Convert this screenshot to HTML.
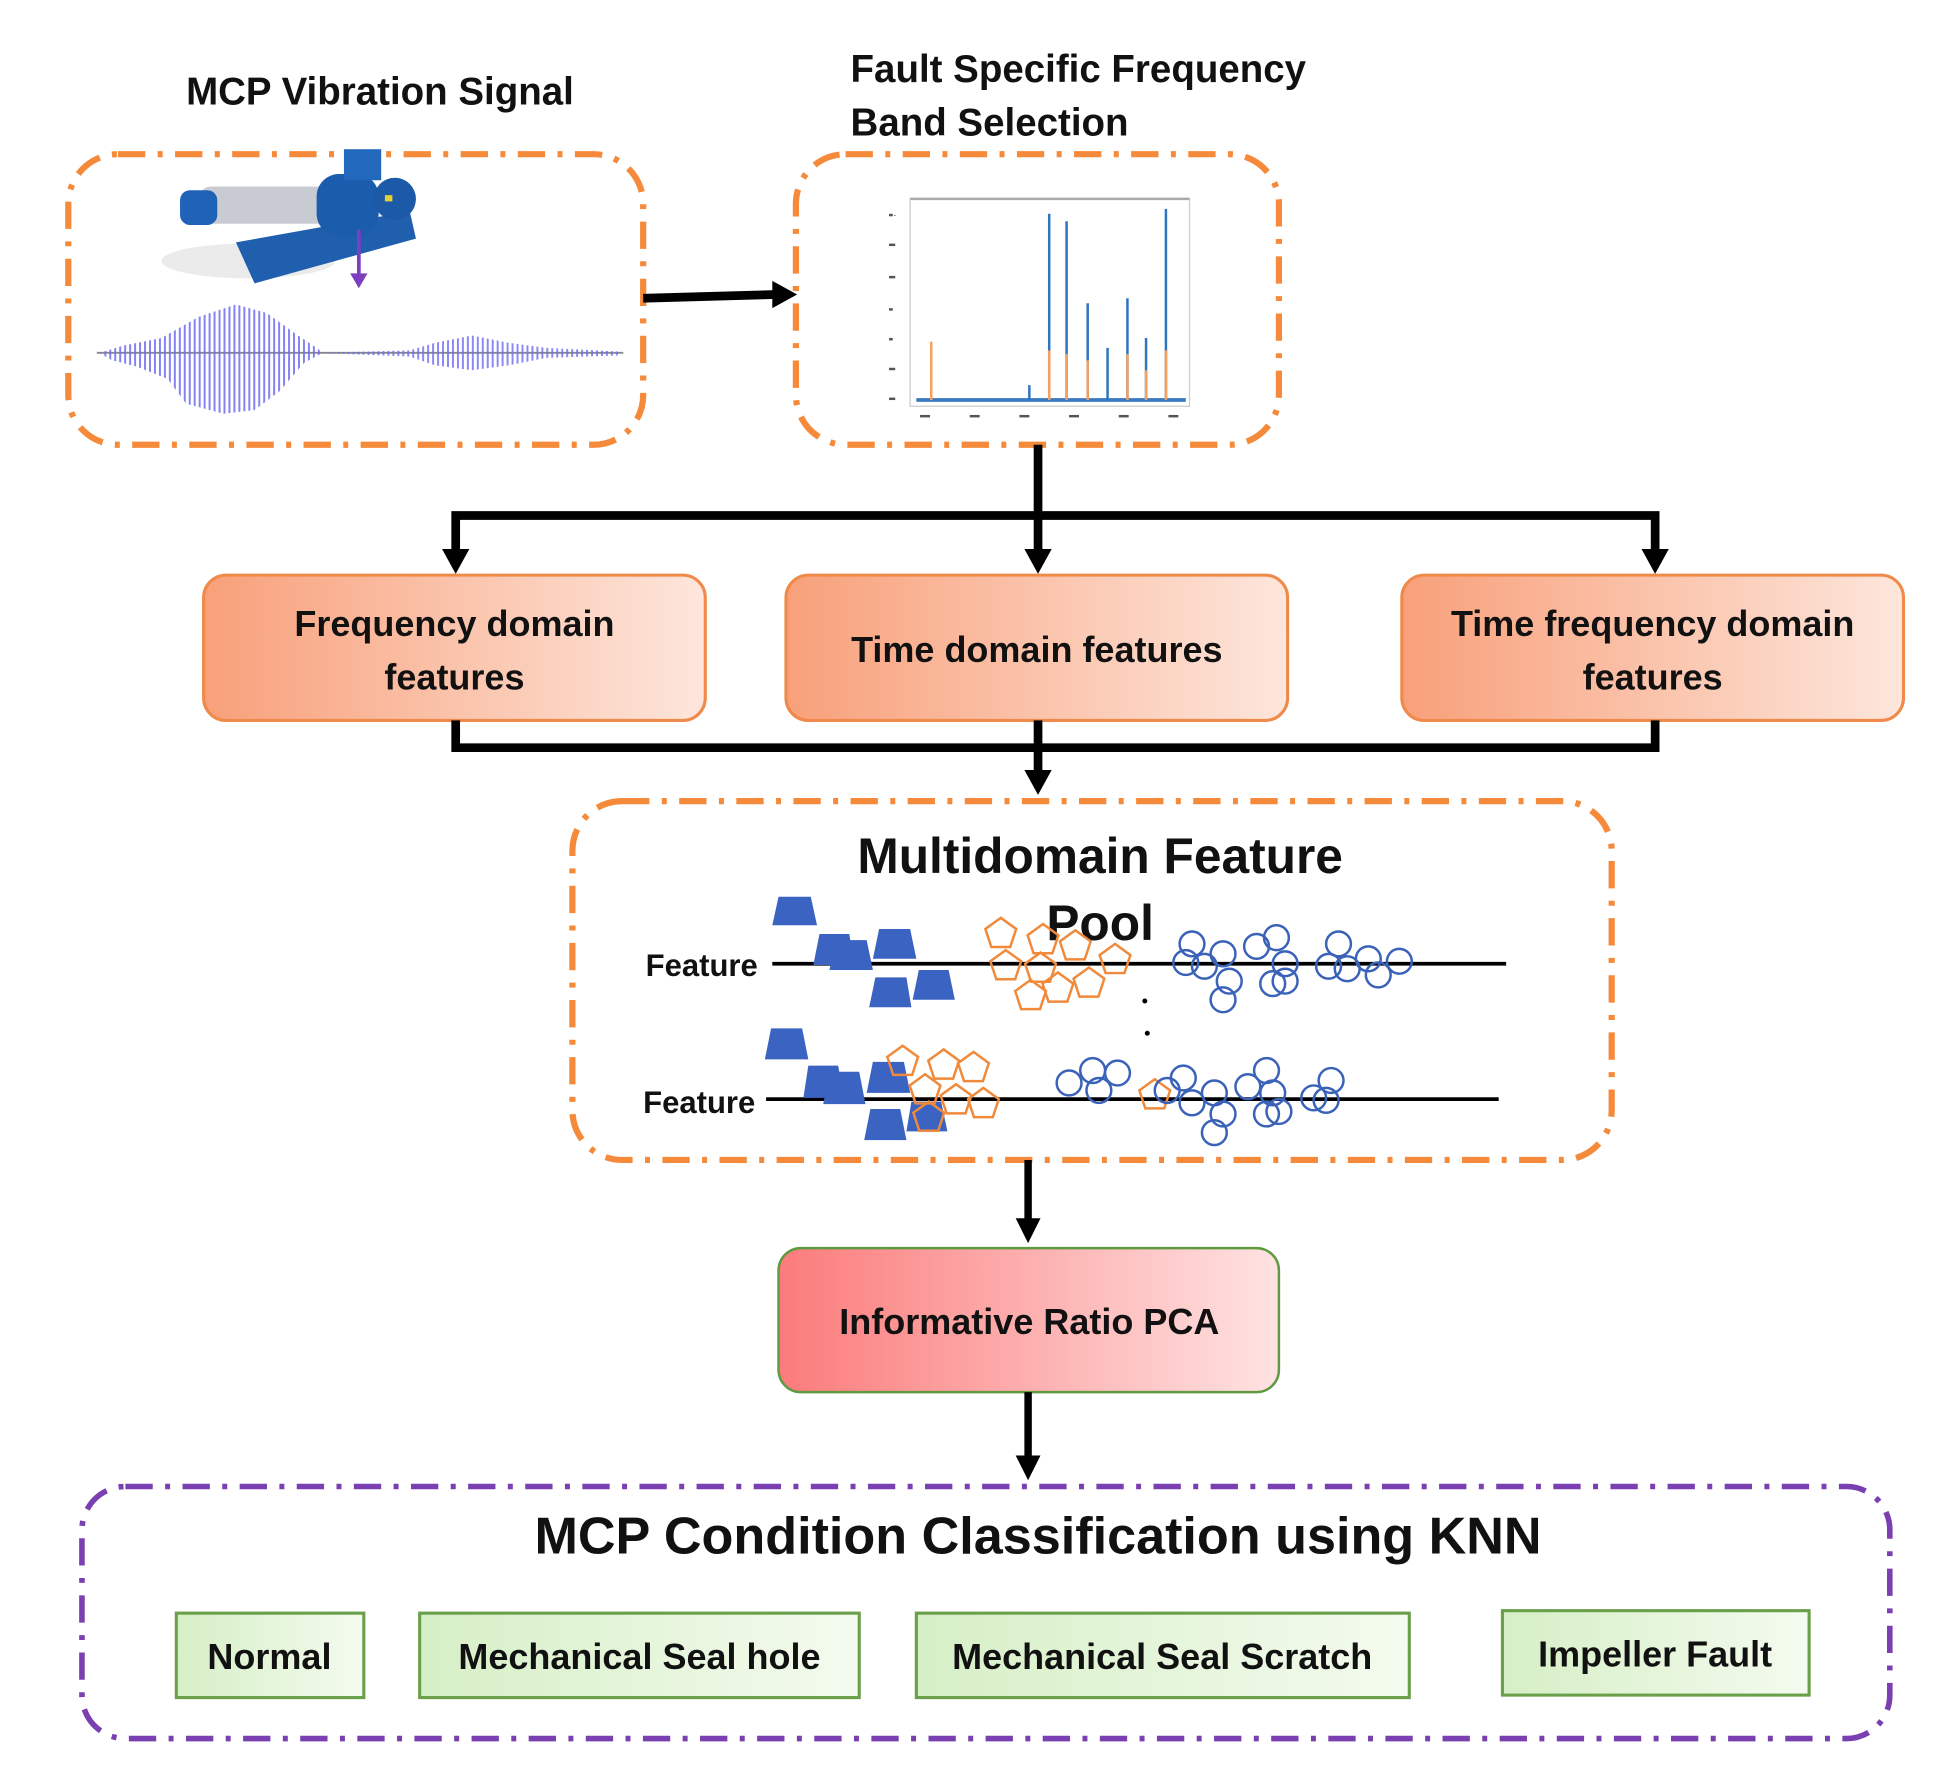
<!DOCTYPE html>
<html><head><meta charset="utf-8"><style>
html,body{margin:0;padding:0;background:#fff}
svg{display:block}
text{font-family:"Liberation Sans",sans-serif;font-weight:bold;fill:#111}
</style></head><body>
<svg width="1937" height="1781" viewBox="0 0 1560 1434" xmlns="http://www.w3.org/2000/svg">
<defs>
<linearGradient id="og" x1="0" x2="1"><stop offset="0" stop-color="#f8a07a"/><stop offset="1" stop-color="#fde6dc"/></linearGradient>
<linearGradient id="rg" x1="0" x2="1"><stop offset="0" stop-color="#fb7b7b"/><stop offset="1" stop-color="#ffe3e3"/></linearGradient>
<linearGradient id="gg" x1="0" x2="1"><stop offset="0" stop-color="#d6efc6"/><stop offset="1" stop-color="#f4fbef"/></linearGradient>
<pattern id="vl" width="4" height="10" patternUnits="userSpaceOnUse"><rect width="1.6" height="10" fill="#6f6cf0"/></pattern>
<marker id="ah" markerWidth="6" markerHeight="6" refX="3" refY="3" orient="auto" markerUnits="userSpaceOnUse"></marker>
</defs>

<!-- titles -->
<text x="306" y="84" font-size="31" text-anchor="middle">MCP Vibration Signal</text>
<text x="685" y="66" font-size="31">Fault Specific Frequency</text>
<text x="685" y="109" font-size="31">Band Selection</text>

<!-- box1 -->
<rect x="55" y="124" width="463" height="234" rx="40" fill="none" stroke="#f58a3a" stroke-width="5" stroke-dasharray="22,10,4,10"/>
<!-- pump -->
<g>
<ellipse cx="200" cy="210" rx="70" ry="14" fill="#ddd" opacity="0.6"/>
<polygon points="190,195 330,170 335,192 205,228" fill="#1f5fae"/>
<rect x="160" y="150" width="110" height="30" rx="10" fill="#c8ccd2"/>
<rect x="145" y="153" width="30" height="28" rx="8" fill="#1f63b8"/>
<rect x="255" y="140" width="50" height="50" rx="18" fill="#1c5cad"/>
<rect x="277" y="120" width="30" height="25" fill="#2268bc"/>
<circle cx="318" cy="160" r="17" fill="#1c5aa8"/>
<rect x="310" y="157" width="6" height="5" fill="#e8d030"/>
</g>
<line x1="289" y1="185" x2="289" y2="222" stroke="#7b3fc0" stroke-width="3"/>
<polygon points="282,220 296,220 289,232" fill="#7b3fc0"/>
<!-- waveform -->
<line x1="78" y1="284" x2="502" y2="284" stroke="#888" stroke-width="1.5"/>
<polygon points="80,284 100,278 130,272 160,255 190,245 215,252 240,270 255,280 260,284 245,292 225,315 205,330 180,333 150,325 135,305 110,295 90,290" fill="url(#vl)" opacity="0.85"/>
<polygon points="255,284 330,282 350,276 380,270 410,276 440,280 500,283 500,286 440,288 410,294 380,298 350,294 330,287" fill="url(#vl)" opacity="0.8"/>

<!-- arrow 1 -->
<line x1="518" y1="240" x2="625" y2="237" stroke="#000" stroke-width="7"/>
<polygon points="622,226 642,237 622,248" fill="#000"/>

<!-- box2 -->
<rect x="641" y="124" width="389" height="234" rx="40" fill="none" stroke="#f58a3a" stroke-width="5" stroke-dasharray="22,10,4,10"/>
<!-- spectrum -->
<rect x="733" y="160" width="225" height="167" fill="#fff" stroke="#ccc" stroke-width="1"/>
<line x1="733" y1="160" x2="958" y2="160" stroke="#aaa" stroke-width="2"/>
<g font-size="4" fill="#555"><text x="720" y="175" font-size="5">·</text></g>
<line x1="738" y1="322" x2="955" y2="322" stroke="#3a78c0" stroke-width="3"/>
<g stroke="#2e74be" stroke-width="2">
<line x1="845" y1="322" x2="845" y2="172"/><line x1="859" y1="322" x2="859" y2="178"/>
<line x1="876" y1="322" x2="876" y2="244"/><line x1="908" y1="322" x2="908" y2="240"/>
<line x1="923" y1="322" x2="923" y2="272"/><line x1="939" y1="322" x2="939" y2="168"/>
<line x1="892" y1="322" x2="892" y2="280"/><line x1="829" y1="322" x2="829" y2="310"/>
</g>
<g stroke="#f4a060" stroke-width="2">
<line x1="750" y1="322" x2="750" y2="275"/><line x1="845" y1="322" x2="845" y2="282"/>
<line x1="859" y1="322" x2="859" y2="285"/><line x1="876" y1="322" x2="876" y2="290"/>
<line x1="908" y1="322" x2="908" y2="285"/><line x1="939" y1="322" x2="939" y2="282"/>
<line x1="923" y1="322" x2="923" y2="298"/>
</g>
<g fill="#555"><rect x="741" y="334" width="8" height="2"/><rect x="781" y="334" width="8" height="2"/><rect x="821" y="334" width="8" height="2"/><rect x="861" y="334" width="8" height="2"/><rect x="901" y="334" width="8" height="2"/><rect x="941" y="334" width="8" height="2"/>
<rect x="716" y="172" width="3" height="2"/><rect x="716" y="196" width="5" height="2"/><rect x="716" y="222" width="5" height="2"/><rect x="716" y="248" width="3" height="2"/><rect x="716" y="272" width="3" height="2"/><rect x="716" y="296" width="5" height="2"/><rect x="716" y="320" width="5" height="2"/></g>

<!-- split connectors -->
<g stroke="#000" stroke-width="7" fill="none">
<line x1="836" y1="358" x2="836" y2="448"/>
<polyline points="367,448 367,415 1333,415 1333,448"/>
</g>
<polygon points="356,442 378,442 367,462" fill="#000"/>
<polygon points="825,442 847,442 836,462" fill="#000"/>
<polygon points="1322,442 1344,442 1333,462" fill="#000"/>

<!-- feature boxes -->
<rect x="164" y="463" width="404" height="117" rx="18" fill="url(#og)" stroke="#f08a4a" stroke-width="2.5"/>
<rect x="633" y="463" width="404" height="117" rx="18" fill="url(#og)" stroke="#f08a4a" stroke-width="2.5"/>
<rect x="1129" y="463" width="404" height="117" rx="18" fill="url(#og)" stroke="#f08a4a" stroke-width="2.5"/>
<text x="366" y="512" font-size="29" text-anchor="middle">Frequency domain</text>
<text x="366" y="555" font-size="29" text-anchor="middle">features</text>
<text x="835" y="533" font-size="29" text-anchor="middle">Time domain features</text>
<text x="1331" y="512" font-size="29" text-anchor="middle">Time frequency domain</text>
<text x="1331" y="555" font-size="29" text-anchor="middle">features</text>

<!-- merge connectors -->
<g stroke="#000" stroke-width="7" fill="none">
<polyline points="367,580 367,602 1333,602 1333,580"/>
<line x1="836" y1="580" x2="836" y2="625"/>
</g>
<polygon points="825,620 847,620 836,640" fill="#000"/>

<!-- multidomain box -->
<rect x="461" y="645" width="837" height="289" rx="40" fill="none" stroke="#f58a3a" stroke-width="5" stroke-dasharray="22,10,4,10"/>
<text x="886" y="703" font-size="40" text-anchor="middle">Multidomain Feature</text>
<text x="886" y="757" font-size="40" text-anchor="middle">Pool</text>
<text x="520" y="786" font-size="25" font-weight="normal">Feature</text>
<text x="518" y="896" font-size="25" font-weight="normal">Feature</text>
<line x1="622" y1="776" x2="1213" y2="776" stroke="#000" stroke-width="3"/>
<line x1="617" y1="885" x2="1207" y2="885" stroke="#000" stroke-width="3"/>
<circle cx="922" cy="806" r="2" fill="#000"/><circle cx="924" cy="832" r="2" fill="#000"/>
<!-- trapezoids -->
<g fill="#3b63c2">
<polygon points="627,722 653,722 658,745 622,745"/>
<polygon points="660,752 684,752 688,777 655,777"/>
<polygon points="673,757 698,757 703,781 668,781"/>
<polygon points="708,748 733,748 738,772 703,772"/>
<polygon points="705,787 730,787 734,811 700,811"/>
<polygon points="740,781 764,781 769,805 735,805"/>
<polygon points="621,828 646,828 651,853 616,853"/>
<polygon points="651,858 675,858 680,884 647,884"/>
<polygon points="668,863 692,863 697,889 663,889"/>
<polygon points="703,855 728,855 733,880 698,880"/>
<polygon points="701,893 725,893 730,918 696,918"/>
<polygon points="734,887 758,887 763,911 730,911"/>
</g>
<!-- pentagons -->
<g fill="none" stroke="#f08a3a" stroke-width="2">
<path id="p" d="M0,-13 L12.4,-4 L7.6,10.5 L-7.6,10.5 L-12.4,-4Z" transform="translate(806,752)"/>
<path d="M0,-13 L12.4,-4 L7.6,10.5 L-7.6,10.5 L-12.4,-4Z" transform="translate(840,757)"/>
<path d="M0,-13 L12.4,-4 L7.6,10.5 L-7.6,10.5 L-12.4,-4Z" transform="translate(866,762)"/>
<path d="M0,-13 L12.4,-4 L7.6,10.5 L-7.6,10.5 L-12.4,-4Z" transform="translate(898,773)"/>
<path d="M0,-13 L12.4,-4 L7.6,10.5 L-7.6,10.5 L-12.4,-4Z" transform="translate(810,778)"/>
<path d="M0,-13 L12.4,-4 L7.6,10.5 L-7.6,10.5 L-12.4,-4Z" transform="translate(838,780)"/>
<path d="M0,-13 L12.4,-4 L7.6,10.5 L-7.6,10.5 L-12.4,-4Z" transform="translate(877,792)"/>
<path d="M0,-13 L12.4,-4 L7.6,10.5 L-7.6,10.5 L-12.4,-4Z" transform="translate(830,802)"/>
<path d="M0,-13 L12.4,-4 L7.6,10.5 L-7.6,10.5 L-12.4,-4Z" transform="translate(852,796)"/>
<path d="M0,-13 L12.4,-4 L7.6,10.5 L-7.6,10.5 L-12.4,-4Z" transform="translate(727,855)"/>
<path d="M0,-13 L12.4,-4 L7.6,10.5 L-7.6,10.5 L-12.4,-4Z" transform="translate(760,858)"/>
<path d="M0,-13 L12.4,-4 L7.6,10.5 L-7.6,10.5 L-12.4,-4Z" transform="translate(784,860)"/>
<path d="M0,-13 L12.4,-4 L7.6,10.5 L-7.6,10.5 L-12.4,-4Z" transform="translate(745,878)"/>
<path d="M0,-13 L12.4,-4 L7.6,10.5 L-7.6,10.5 L-12.4,-4Z" transform="translate(770,886)"/>
<path d="M0,-13 L12.4,-4 L7.6,10.5 L-7.6,10.5 L-12.4,-4Z" transform="translate(792,889)"/>
<path d="M0,-13 L12.4,-4 L7.6,10.5 L-7.6,10.5 L-12.4,-4Z" transform="translate(748,900)"/>
<path d="M0,-13 L12.4,-4 L7.6,10.5 L-7.6,10.5 L-12.4,-4Z" transform="translate(930,882)"/>
</g>
<!-- circles -->
<g fill="none" stroke="#3a62b8" stroke-width="2">
<circle cx="960" cy="760" r="10"/><circle cx="955" cy="775" r="10"/><circle cx="970" cy="778" r="10"/><circle cx="985" cy="768" r="10"/>
<circle cx="990" cy="790" r="10"/><circle cx="985" cy="805" r="10"/><circle cx="1012" cy="762" r="10"/><circle cx="1028" cy="755" r="10"/>
<circle cx="1035" cy="776" r="10"/><circle cx="1025" cy="792" r="10"/><circle cx="1035" cy="790" r="10"/><circle cx="1078" cy="760" r="10"/>
<circle cx="1070" cy="778" r="10"/><circle cx="1085" cy="780" r="10"/><circle cx="1102" cy="772" r="10"/><circle cx="1127" cy="774" r="10"/><circle cx="1110" cy="785" r="10"/>
<circle cx="861" cy="872" r="10"/><circle cx="880" cy="862" r="10"/><circle cx="900" cy="864" r="10"/><circle cx="885" cy="878" r="10"/>
<circle cx="953" cy="868" r="10"/><circle cx="960" cy="888" r="10"/><circle cx="978" cy="880" r="10"/><circle cx="985" cy="897" r="10"/>
<circle cx="978" cy="912" r="10"/><circle cx="1005" cy="875" r="10"/><circle cx="1020" cy="862" r="10"/><circle cx="1025" cy="880" r="10"/>
<circle cx="1020" cy="897" r="10"/><circle cx="1030" cy="895" r="10"/><circle cx="1058" cy="884" r="10"/><circle cx="1072" cy="870" r="10"/><circle cx="1068" cy="886" r="10"/><circle cx="940" cy="878" r="10"/>
</g>

<!-- arrow to PCA -->
<line x1="828" y1="934" x2="828" y2="985" stroke="#000" stroke-width="6"/>
<polygon points="818,981 838,981 828,1001" fill="#000"/>
<rect x="627" y="1005" width="403" height="116" rx="18" fill="url(#rg)" stroke="#5f9a40" stroke-width="2"/>
<text x="829" y="1074" font-size="29" text-anchor="middle">Informative Ratio PCA</text>
<line x1="828" y1="1121" x2="828" y2="1175" stroke="#000" stroke-width="6"/>
<polygon points="818,1172 838,1172 828,1192" fill="#000"/>

<!-- KNN box -->
<rect x="66" y="1197" width="1456" height="203" rx="35" fill="none" stroke="#7a3fb0" stroke-width="4.5" stroke-dasharray="22,10,4,10"/>
<text x="836" y="1251" font-size="42" text-anchor="middle">MCP Condition Classification using KNN</text>
<g fill="url(#gg)" stroke="#6aa04a" stroke-width="2.5">
<rect x="142" y="1299" width="151" height="68"/>
<rect x="338" y="1299" width="354" height="68"/>
<rect x="738" y="1299" width="397" height="68"/>
<rect x="1210" y="1297" width="247" height="68"/>
</g>
<text x="217" y="1344" font-size="29" text-anchor="middle">Normal</text>
<text x="515" y="1344" font-size="29" text-anchor="middle">Mechanical Seal hole</text>
<text x="936" y="1344" font-size="29" text-anchor="middle">Mechanical Seal Scratch</text>
<text x="1333" y="1342" font-size="29" text-anchor="middle">Impeller Fault</text>
</svg>
</body></html>
